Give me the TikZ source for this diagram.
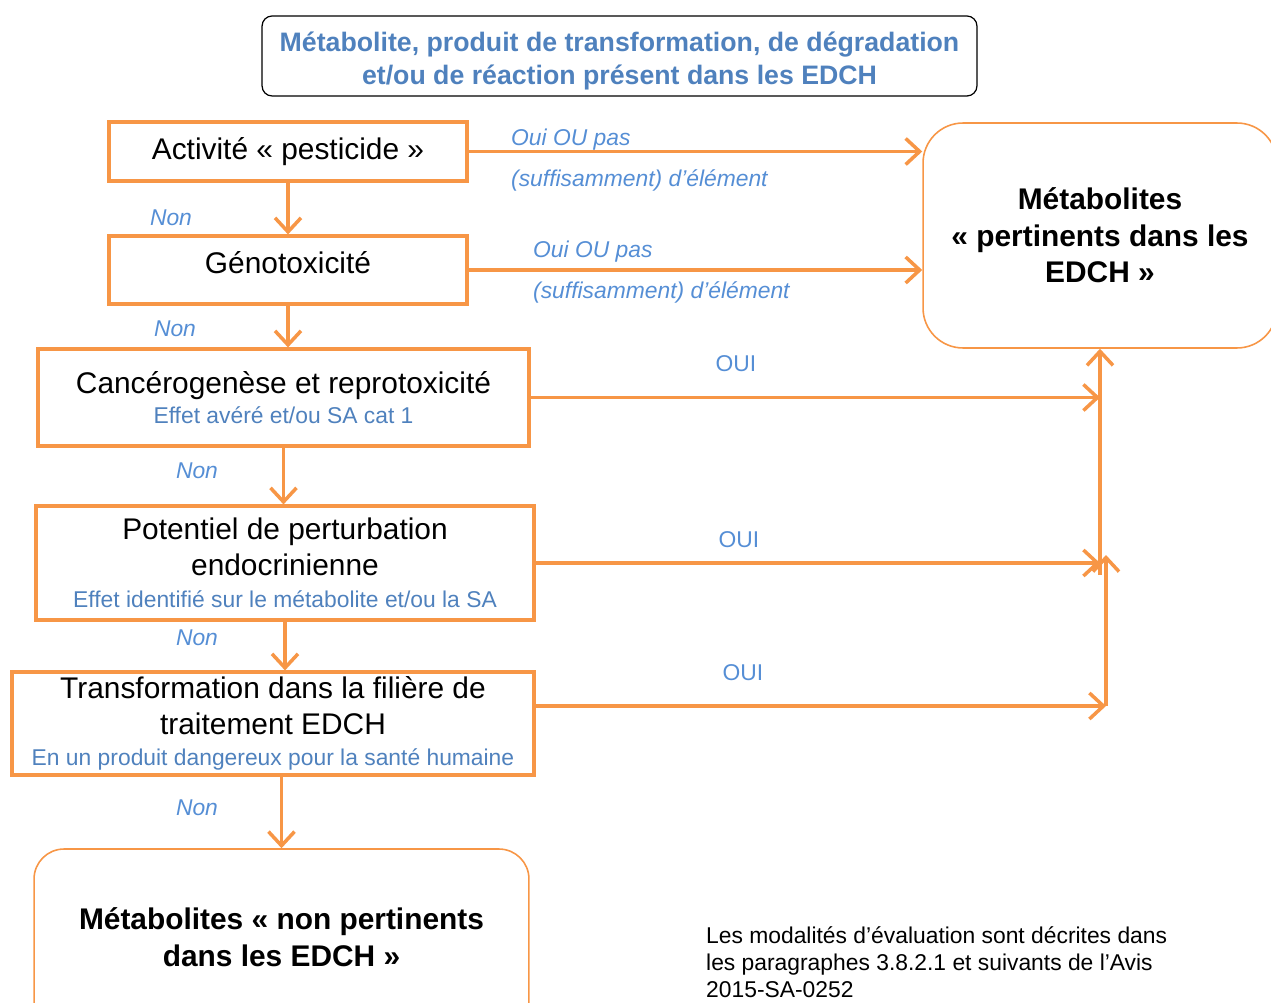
\documentclass[tikz,border=0pt]{standalone}
\usepackage{fontspec}
\setmainfont{Liberation Sans}
\usepackage{tikz}
\usetikzlibrary{positioning, arrows.meta}
\definecolor{ansesorange}{HTML}{F79646}
\definecolor{titleblue}{HTML}{4F81BD}
\definecolor{labelblue}{HTML}{558ED5}

\begin{document}
\begin{tikzpicture}
    [
        x=0.02cm, y=-0.02cm,
        step_box/.style={rectangle, draw=ansesorange, line width=1.8pt, align=center, inner sep=0pt, font=\fontsize{17}{20.4}\selectfont},
        end_box/.style={rectangle, draw=ansesorange, line width=0.9pt, align=center, inner sep=0pt, font=\fontsize{17}{20.8}\selectfont\bfseries},
        title_box/.style={rectangle, draw=black, line width=0.7pt, rounded corners=0.2cm, align=center, minimum width=14.3cm, minimum height=1.6cm, text=titleblue, font=\fontsize{15.2}{18.4}\selectfont\bfseries},
        no_label/.style={text=labelblue, font=\fontsize{13}{15}\selectfont\itshape},
        yes_label/.style={text=labelblue, font=\fontsize{13}{15}\selectfont},
        flow/.style={-{Straight Barb[length=2.8mm, width=5.2mm]}, line width=2pt, color=ansesorange},
    ]
        \useasboundingbox (0,0) rectangle (1271,1003) ;
        \clip (0,0) rectangle (1271,1003) ;
        \node[title_box] (title) at (619.5,56) {\rule{0pt}{17pt}Métabolite, produit de transformation, de dégradation\\et/ou de réaction présent dans les EDCH} ;
        \node[step_box, minimum width=7.16cm, minimum height=1.18cm] (pesticide) at (288,151.5) {Activité « pesticide »} ;
        \node[step_box, minimum width=7.16cm, minimum height=1.36cm, text depth=8pt] (genotox) at (288,270) {Génotoxicité} ;
        \node[step_box, minimum width=9.82cm, minimum height=1.94cm] (cancero) at (283.5,397.5) {Cancérogenèse et reprotoxicité\\[-3pt]{\color{titleblue}\fontsize{13}{15}\selectfont Effet avéré et/ou SA cat 1}} ;
        \node[step_box, minimum width=9.96cm, minimum height=2.28cm] (endocrin) at (285,563) {Potentiel de perturbation\\endocrinienne\\[-2pt]{\color{titleblue}\fontsize{13}{15}\selectfont Effet identifié sur le métabolite et/ou la SA}} ;
        \node[step_box, minimum width=10.44cm, minimum height=2.06cm] (traitement) at (273,723.5) {Transformation dans la filière de\\traitement EDCH\\[-3pt]{\color{titleblue}\fontsize{13}{15}\selectfont En un produit dangereux pour la santé humaine}} ;
        \node[end_box, rounded corners=0.8cm, minimum width=7.08cm, minimum height=4.5cm] (pert) at (1100,235.5) {Métabolites\\« pertinents dans les\\EDCH »} ;
        \node[end_box, rounded corners=0.6cm, minimum width=9.9cm, minimum height=3.8cm, text depth=8pt] (non_pert) at (281.5,944) {Métabolites « non pertinents\\dans les EDCH »} ;
        \node[anchor=west, align=left, font=\fontsize{13}{15.3}\selectfont] (avis) at (700,962) {Les modalités d’évaluation sont décrites dans\\les paragraphes 3.8.2.1 et suivants de l’Avis\\2015-SA-0252} ;
        % labels
        \node[no_label] (non1) at (171,218) {Non} ;
        \node[no_label] (non2) at (175,329) {Non} ;
        \node[no_label] (non3) at (197,471) {Non} ;
        \node[no_label] (non4) at (197,638) {Non} ;
        \node[no_label] (non5) at (197,808) {Non} ;
        \node[no_label, anchor=west] (oui1) at (505,140) {Oui OU pas} ;
        \node[no_label, anchor=west] (elem1) at (505,180) {(suffisamment) d’élément} ;
        \node[no_label, anchor=west] (oui2) at (527,252) {Oui OU pas} ;
        \node[no_label, anchor=west] (elem2) at (527,292) {(suffisamment) d’élément} ;
        \node[yes_label] (oui3) at (736,364) {OUI} ;
        \node[yes_label] (oui4) at (739,540) {OUI} ;
        \node[yes_label] (oui5) at (743,673) {OUI} ;
        % free ends on the right
        \coordinate (join_low) at (1100,575) ;
        \coordinate (tr_corner) at (1106,706) ;
        \coordinate (tr_top) at (1106,555) ;
        % connectors
        \draw[flow] (pesticide) to (genotox) ;
        \draw[flow] (genotox.south) -- (genotox.south |- cancero.north) ;
        \draw[flow] (cancero.south) -- (cancero.south |- endocrin.north) ;
        \draw[flow] (endocrin.south) -- (endocrin.south |- traitement.north) ;
        \draw[flow] (traitement.south -| non_pert.north) -- (non_pert.north) ;
        \draw[flow] (pesticide.east) -- (pesticide.east -| pert.west) ;
        \draw[flow] (genotox.east) -- (genotox.east -| pert.west) ;
        \draw[flow] (cancero.east) -- (cancero.east -| pert.south) ;
        \draw[flow] (endocrin.east) -- (endocrin.east -| pert.south) ;
        \draw[flow] (traitement.east |- tr_corner) -- (tr_corner) ;
        \draw[flow] (tr_corner) -- (tr_top) ;
        \draw[flow] (join_low) -- (pert.south) ;
    \end{tikzpicture}
\end{document}
